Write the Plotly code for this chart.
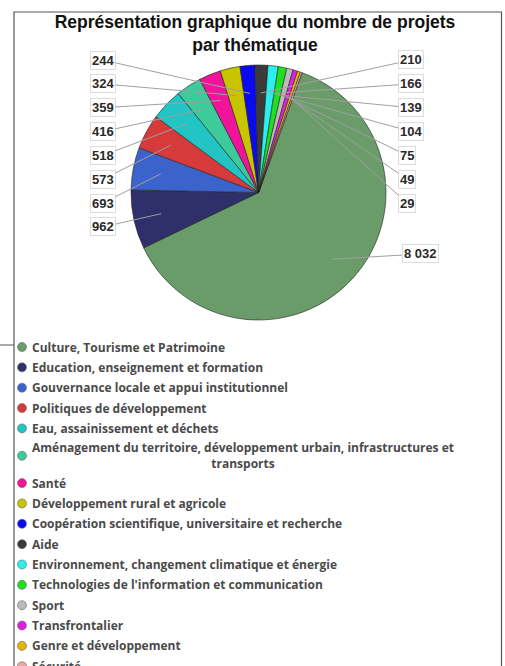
import math
import plotly.graph_objects as go

# ---------------- data ----------------
categories = [
    "Culture, Tourisme et Patrimoine",
    "Education, enseignement et formation",
    "Gouvernance locale et appui institutionnel",
    "Politiques de développement",
    "Eau, assainissement et déchets",
    "Aménagement du territoire, développement urbain, infrastructures et<br>transports",
    "Santé",
    "Développement rural et agricole",
    "Coopération scientifique, universitaire et recherche",
    "Aide",
    "Environnement, changement climatique et énergie",
    "Technologies de l'information et communication",
    "Sport",
    "Transfrontalier",
    "Genre et développement",
    "Sécurité",
]
projects = [8032, 962, 693, 573, 518, 416, 359, 324, 244, 210, 166, 139, 104, 75, 49, 29]
value_labels = ["8 032", "962", "693", "573", "518", "416", "359", "324", "244",
                "210", "166", "139", "104", "75", "49", "29"]

# ---------------- style ----------------
colors = ["#699c69", "#2e2f6b", "#3c63cc", "#d63a3a", "#22c4c4", "#3ecb9b",
          "#f0149a", "#c8c400", "#0a0af0", "#3a3a3a", "#2af0f0", "#1ee01e",
          "#bbbbbb", "#e020e0", "#e8b400", "#f4a7a7"]
W, H = 505, 666
CX, CY, R = 258.5, 192.5, 127.5      # pie centre / radius in pixels
ROTATION = 20
LABEL_TOP, LABEL_STEP = 60, 23.85
LEFT_X, RIGHT_X = 103, 399
LEG_TOP, LEG_STEP = 347, 20.35

fig = go.Figure()
fig.add_trace(go.Pie(
    labels=[c.replace("<br>", " ") for c in categories],
    values=projects,
    sort=False,
    direction="clockwise",
    rotation=ROTATION,
    marker=dict(colors=colors, line=dict(color="#222222", width=0.6)),
    textinfo="none",
    showlegend=False,
    domain=dict(x=[(CX - R) / W, (CX + R) / W], y=[1 - (CY + R) / H, 1 - (CY - R) / H]),
))

# ---------- value labels with leader lines (slice angles derived from the data) ----------
total = sum(projects)
annotations = []
cum = 0
for i, v in enumerate(projects):
    mid = ROTATION + (cum + v / 2) / total * 360
    cum += v
    th = math.radians(mid)
    rr = 0.78 * R
    px = CX + rr * math.sin(th)
    py = CY - rr * math.cos(th)
    if i == 0:
        lx, ly = 420, 254
    elif 1 <= i <= 8:
        lx = LEFT_X
        ly = LABEL_TOP + (8 - i) * LABEL_STEP
    else:
        k = i - 9
        lx = RIGHT_X + (12 if len(value_labels[i]) == 3 else 8)
        ly = LABEL_TOP + k * LABEL_STEP
    annotations.append(dict(
        x=px / W, y=1 - py / H, xref="paper", yref="paper",
        ax=lx - px, ay=ly - py, axref="pixel", ayref="pixel",
        text="<b>%s</b>" % value_labels[i],
        font=dict(family="Liberation Sans, Arial, sans-serif", size=13, color="#2a2a2a"),
        showarrow=True, arrowhead=0, arrowwidth=1, arrowcolor="#a0a0a0",
        standoff=0, startstandoff=0,
        bgcolor="white", bordercolor="#dcdcdc", borderwidth=1, borderpad=1,
    ))

# ---------------- legend (annotations + circle shapes) ----------------
shapes = []
y = LEG_TOP
for i, c in enumerate(categories):
    nlines = c.count("<br>") + 1
    yc = y + (nlines - 1) * 7
    annotations.append(dict(
        x=30 / W, y=1 - yc / H, xref="paper", yref="paper",
        xanchor="left", yanchor="middle", align="center", showarrow=False,
        text="<b>%s</b>" % c,
        font=dict(family="Open Sans, sans-serif", size=12, color="#4a4a4a"),
    ))
    shapes.append(dict(
        type="circle", xref="paper", yref="paper",
        xsizemode="pixel", ysizemode="pixel",
        xanchor=22 / W, yanchor=1 - yc / H,
        x0=-4.5, x1=4.5, y0=-4.5, y1=4.5,
        fillcolor=colors[i], line=dict(color="#666666", width=0.6),
    ))
    y += LEG_STEP if nlines == 1 else LEG_STEP + 14

# frame
shapes.append(dict(type="rect", xref="paper", yref="paper",
                   x0=14 / W, x1=501.5 / W, y0=-0.02, y1=1 - 12 / H,
                   line=dict(color="#555555", width=1.2), fillcolor="rgba(0,0,0,0)", layer="below"))
shapes.append(dict(type="line", xref="paper", yref="paper",
                   x0=0, x1=14 / W, y0=1 - 345 / H, y1=1 - 345 / H,
                   line=dict(color="#555555", width=1)))

fig.update_layout(
    width=W, height=H,
    margin=dict(l=0, r=0, t=0, b=0),
    paper_bgcolor="white", plot_bgcolor="white",
    title=dict(
        text="<b>Représentation graphique du nombre de projets<br>par thématique</b>",
        x=255 / W, xanchor="center", y=1 - 28 / H, yanchor="top", yref="container",
        font=dict(family="Liberation Sans, Arial, sans-serif", size=17.5, color="#111111"),
    ),
    annotations=annotations,
    shapes=shapes,
    showlegend=False,
)

fig.write_html("out.html", config={"displayModeBar": False},
               post_script="document.body.style.margin='0';document.body.style.overflow='hidden';")
